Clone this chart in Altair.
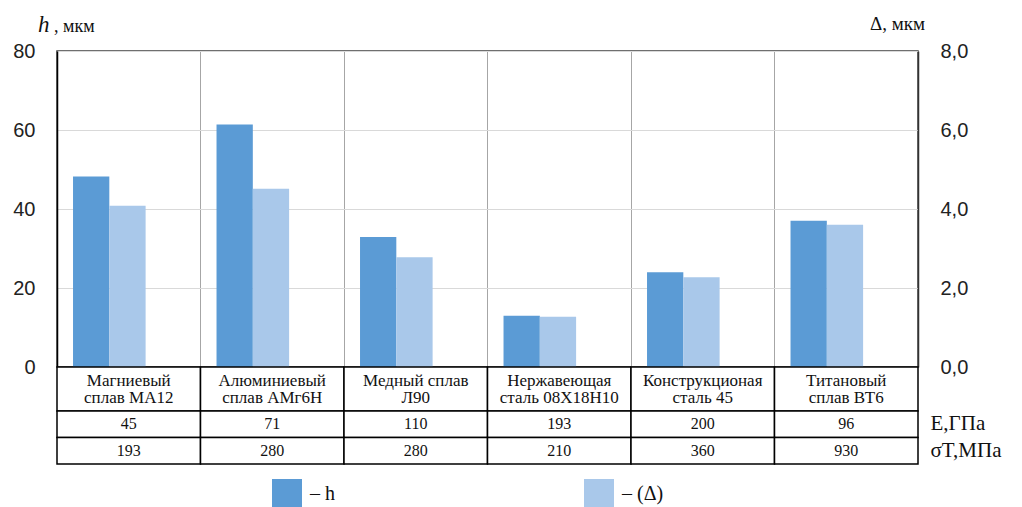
import altair as alt
import pandas as pd

# ---------------- data ----------------
cat_ids = ["c1", "c2", "c3", "c4", "c5", "c6"]
names = [
    "Магниевый\nсплав МА12",
    "Алюминиевый\nсплав АМг6Н",
    "Медный сплав\nЛ90",
    "Нержавеющая\nсталь  08Х18Н10",
    "Конструкционая\nсталь 45",
    "Титановый\nсплав ВТ6",
]
h_vals = [48.2, 61.4, 32.9, 13.0, 24.0, 37.0]
d_vals = [4.08, 4.51, 2.78, 1.27, 2.27, 3.60]
E_vals = [45, 71, 110, 193, 200, 96]
s_vals = [193, 280, 280, 210, 360, 930]
row_labels = ["E,ГПа", "σT,МПа"]
series = ["h", "Δ"]
h_ticks = [0, 20, 40, 60, 80]
d_ticks = [0, 2, 4, 6, 8]

W = 861
SERIF = "Liberation Serif"
SANS = "Liberation Sans"

df_h = pd.DataFrame({"cat": cat_ids, "val": h_vals, "s": series[0]})
df_d = pd.DataFrame({"cat": cat_ids, "val": d_vals, "s": series[1]})
df_names = pd.DataFrame({"cat": cat_ids, "name": names})
df_vals = pd.DataFrame({
    "cat": cat_ids * 2,
    "row": [row_labels[0]] * 6 + [row_labels[1]] * 6,
    "v": E_vals + s_vals,
})

xscale = alt.Scale(domain=cat_ids, paddingInner=0, paddingOuter=0)
xoff = alt.Scale(domain=series, paddingInner=0, paddingOuter=0.977, align=0.226)
cscale = alt.Scale(domain=series, range=["#5B9BD5", "#A9C8EA"])

x_bars = alt.X("cat:N", scale=xscale, title=None,
               axis=alt.Axis(labels=False, ticks=False, domain=False, grid=True,
                             gridColor="#A6A6A6", gridWidth=1, bandPosition=0))

legend = alt.Legend(title=None, orient="none", legendX=215, legendY=428,
                    direction="horizontal", symbolType="square", symbolSize=900,
                    symbolStrokeWidth=0, labelFont=SERIF, labelFontSize=20,
                    labelColor="#111",
                    labelExpr="datum.value == 'h' ? '– h' : '–  (Δ)'",
                    columnPadding=249, labelOffset=8, padding=0)

bars_h = alt.Chart(df_h).mark_bar().encode(
    x=x_bars,
    xOffset=alt.XOffset("s:N", scale=xoff),
    y=alt.Y("val:Q", scale=alt.Scale(domain=[0, 80], nice=False), title=None,
            axis=alt.Axis(values=h_ticks, grid=True, gridColor="#D9D9D9",
                          domainColor="black", domainWidth=1.5, ticks=False,
                          labelFont=SANS, labelFontSize=20, labelPadding=22,
                          labelColor="#222")),
    color=alt.Color("s:N", scale=cscale, legend=legend),
)

bars_d = alt.Chart(df_d).mark_bar().encode(
    x=x_bars,
    xOffset=alt.XOffset("s:N", scale=xoff),
    y=alt.Y("val:Q", scale=alt.Scale(domain=[0, 8], nice=False), title=None,
            axis=alt.Axis(orient="right", values=d_ticks, grid=False,
                          domainColor="#333", domainWidth=1.5, ticks=False,
                          labelFont=SANS, labelFontSize=20, labelPadding=22,
                          labelColor="#222",
                          labelExpr="replace(format(datum.value, '.1f'), '.', ',')")),
    color=alt.Color("s:N", scale=cscale, legend=legend),
)

one = alt.Data(values=[{}])
t_h = alt.Chart(one).mark_text(font=SERIF, fontSize=23, fontStyle="italic",
                               align="left", baseline="alphabetic", color="#111").encode(
    x=alt.value(-19), y=alt.value(-19), text=alt.value("h"))
t_hu = alt.Chart(one).mark_text(font=SERIF, fontSize=18, align="left",
                                baseline="alphabetic", color="#111").encode(
    x=alt.value(-3), y=alt.value(-19), text=alt.value(", мкм"))
t_d = alt.Chart(one).mark_text(font=SERIF, fontSize=19, align="left",
                               baseline="alphabetic", color="#111").encode(
    x=alt.value(813), y=alt.value(-21), text=alt.value("Δ,  мкм"))

top = alt.layer(bars_h, bars_d, t_h, t_hu, t_d).resolve_scale(
    y="independent").properties(
    width=W, height=316,
    view=alt.ViewBackground(stroke="#404040", strokeWidth=1.5))

# ---------------- table ----------------
x_tab = alt.X("cat:N", scale=xscale, axis=None)
name_cells = alt.Chart(df_names).mark_rect(fill="white", stroke="black", strokeWidth=1.5).encode(
    x=x_tab, y=alt.value(0), y2=alt.value("height"))
name_text = alt.Chart(df_names).mark_text(font=SERIF, fontSize=17, lineBreak="\n",
                                          lineHeight=17, dy=-8, color="#111").encode(
    x=x_tab, text="name:N")
names_chart = alt.layer(name_cells, name_text).properties(width=W, height=44)

y_tab = alt.Y("row:N", scale=alt.Scale(domain=row_labels, paddingInner=0, paddingOuter=0),
              title=None,
              axis=alt.Axis(orient="right", domain=False, ticks=False, labelFont=SERIF,
                            labelFontSize=21, labelPadding=12, labelColor="#111"))
val_cells = alt.Chart(df_vals).mark_rect(fill="white", stroke="black", strokeWidth=1.5).encode(
    x=x_tab, y=y_tab)
val_text = alt.Chart(df_vals).mark_text(font=SERIF, fontSize=16, color="#111").encode(
    x=x_tab, y=y_tab, text="v:Q")
vals_chart = alt.layer(val_cells, val_text).properties(width=W, height=53)

chart = alt.vconcat(top, names_chart, vals_chart, spacing=0, bounds="flush").configure_view(
    stroke=None).properties(
    padding={"left": 4, "top": 5, "right": 5, "bottom": 0},
    background="white")

chart.save("out.html", embed_options={"renderer": "svg", "actions": False})
